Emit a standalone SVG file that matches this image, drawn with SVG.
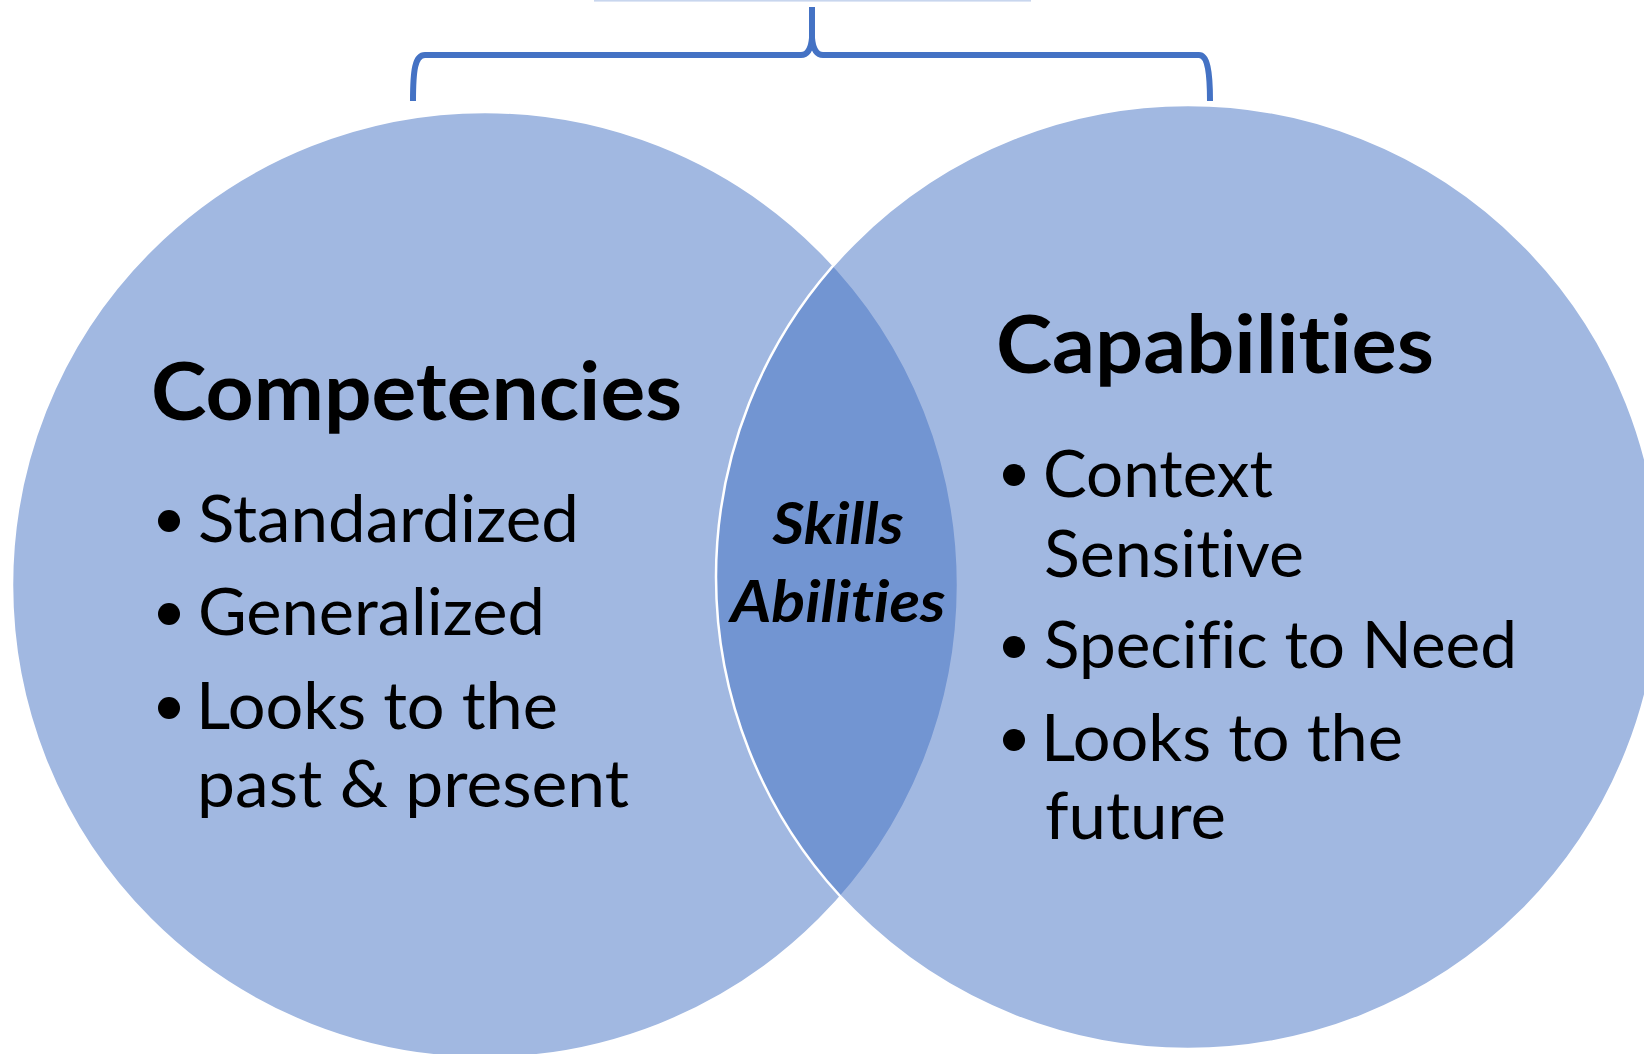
<svg xmlns="http://www.w3.org/2000/svg" width="1644" height="1054" viewBox="0 0 1644 1054">
  <style>
    .set { fill: #4472C4; fill-opacity: 0.5; stroke: #FFFFFF; stroke-width: 2.5; }
    text { font-family: Lato, "Liberation Sans", sans-serif; fill: #000000; font-variant-ligatures: none; font-feature-settings: "liga" 0, "clig" 0; }
    .title { font-weight: 700; font-size: 80px; }
    .item { font-weight: 400; font-size: 65px; }
    .shared { font-weight: 700; font-style: italic; font-size: 57px; text-anchor: middle; }
    .dot { fill: #000000; }
    .brace { fill: none; stroke: #4472C4; stroke-width: 6; stroke-linejoin: round; }
  </style>

  <rect width="1644" height="1054" fill="#FFFFFF"/>

  <!-- thin light rule along the top edge -->
  <rect x="594" y="0" width="437" height="1.6" fill="#C8D6EE"/>

  <!-- bracket spanning both sets -->
  <g id="connectors">
    <path class="brace" d="M413,101 C413,70 415,55 425,55 L801,55 C808,55 811,49 812,38 L812,7"/>
    <path class="brace" d="M812,38 C813,49 816,55 823,55 L1199,55 C1207,55 1210,70 1210,101"/>
  </g>

  <!-- left set -->
  <g id="node-competencies">
    <circle class="set" cx="485" cy="585" r="473"/>
    <text class="title" x="151" y="420" textLength="531" lengthAdjust="spacingAndGlyphs">Competencies</text>
    <circle class="dot" cx="169" cy="521" r="11"/>
    <text class="item" x="198" y="542" textLength="381" lengthAdjust="spacingAndGlyphs">Standardized</text>
    <circle class="dot" cx="169" cy="614" r="11"/>
    <text class="item" x="198" y="635" textLength="347" lengthAdjust="spacingAndGlyphs">Generalized</text>
    <circle class="dot" cx="169" cy="708" r="11"/>
    <text class="item" x="196" y="729" textLength="362" lengthAdjust="spacingAndGlyphs">Looks to the</text>
    <text class="item" x="197" y="807" textLength="432" lengthAdjust="spacingAndGlyphs">past &amp; present</text>
  </g>

  <!-- right set -->
  <g id="node-capabilities">
    <circle class="set" cx="1188" cy="577" r="472"/>
    <text class="title" x="996" y="373" textLength="438" lengthAdjust="spacingAndGlyphs">Capabilities</text>
    <circle class="dot" cx="1014" cy="475" r="11"/>
    <text class="item" x="1043" y="497" textLength="230" lengthAdjust="spacingAndGlyphs">Context</text>
    <text class="item" x="1044" y="577" textLength="260" lengthAdjust="spacingAndGlyphs">Sensitive</text>
    <circle class="dot" cx="1014" cy="647" r="11"/>
    <text class="item" x="1044" y="668" textLength="473" lengthAdjust="spacingAndGlyphs">Specific to Need</text>
    <circle class="dot" cx="1014" cy="740" r="11"/>
    <text class="item" x="1041" y="761" textLength="362" lengthAdjust="spacingAndGlyphs">Looks to the</text>
    <text class="item" x="1045" y="839" textLength="181" lengthAdjust="spacingAndGlyphs">future</text>
  </g>

  <!-- overlap label -->
  <g id="node-overlap">
    <text class="shared" x="838" y="544" textLength="131" lengthAdjust="spacingAndGlyphs">Skills</text>
    <text class="shared" x="838" y="622" textLength="215" lengthAdjust="spacingAndGlyphs">Abilities</text>
  </g>
</svg>
